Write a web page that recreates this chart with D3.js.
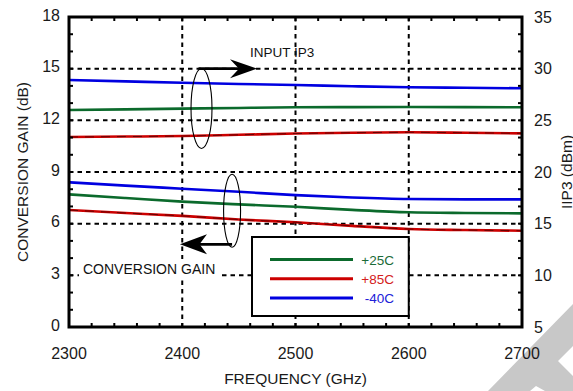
<!DOCTYPE html>
<html>
<head>
<meta charset="utf-8">
<script src="https://cdn.jsdelivr.net/npm/d3@7"></script>
<style>
  html, body { margin: 0; padding: 0; background: #fff; }
  svg { display: block; font-family: "Liberation Sans", Arial, sans-serif; }
</style>
</head>
<body>
<div id="chart"></div>
<script>
// values
const freq = [2300, 2350, 2400, 2450, 2500, 2550, 2600, 2650, 2700];

// input IP3 (dBm, right axis)
const ip3Plus25 = [26.0, 26.06, 26.13, 26.2, 26.26, 26.28, 26.29, 26.28, 26.26];
const ip3Plus85 = [23.39, 23.43, 23.48, 23.6, 23.72, 23.8, 23.84, 23.8, 23.74];
const ip3Minus40 = [28.9, 28.77, 28.64, 28.52, 28.42, 28.3, 28.2, 28.15, 28.1];

// conversion gain (dB, left axis)
const gainPlus25 = [7.7, 7.49, 7.28, 7.12, 6.98, 6.8, 6.66, 6.62, 6.6];
const gainPlus85 = [6.79, 6.62, 6.45, 6.24, 6.08, 5.87, 5.69, 5.63, 5.59];
const gainMinus40 = [8.4, 8.21, 8.03, 7.85, 7.66, 7.52, 7.43, 7.41, 7.41];

const tempLabels = ["+25C", "+85C", "-40C"];
const tempColors = ["#0b6a2c", "#cc0000", "#0000e0"];
const textColors = ["#1b6b38", "#d42020", "#2020d8"];

const xTicks = [2300, 2400, 2500, 2600, 2700];
const leftTicks = [0, 3, 6, 9, 12, 15, 18];
const rightTicks = [5, 10, 15, 20, 25, 30, 35];

const width = 573, height = 391;
const plot = { left: 69, right: 522, top: 17, bottom: 327 };

const svg = d3.select("#chart").append("svg")
  .attr("width", width)
  .attr("height", height);

svg.append("rect").attr("width", width).attr("height", height).attr("fill", "#fff");

const x = d3.scaleLinear().domain([2300, 2700]).range([plot.left, plot.right]);
const yL = d3.scaleLinear().domain([0, 18]).range([plot.bottom, plot.top]);
const yR = d3.scaleLinear().domain([5, 35]).range([plot.bottom, plot.top]);

// grey watermark corner
svg.append("path")
  .attr("fill", "#c8c8c8")
  .attr("d", `M${width - 85},${height} L${width},${height - 87} L${width},${height - 45}
    L${width - 15},${height - 30} L${width},${height - 15} L${width},${height}
    L${width - 28},${height} L${width - 37},${height - 5} L${width - 43},${height} Z`);

// dashed grid
const grid = svg.append("g")
  .attr("stroke", "#000")
  .attr("stroke-width", 2)
  .attr("stroke-dasharray", "4.5,4");

grid.selectAll("line.h")
  .data(leftTicks.slice(1, -1))
  .join("line")
  .attr("x1", plot.left).attr("x2", plot.right)
  .attr("y1", d => yL(d)).attr("y2", d => yL(d));

grid.selectAll("line.v")
  .data(xTicks.slice(1, -1))
  .join("line")
  .attr("x1", d => x(d)).attr("x2", d => x(d))
  .attr("y1", plot.top).attr("y2", plot.bottom);

// curves
const gainSeries = [gainPlus25, gainPlus85, gainMinus40];
const ip3Series = [ip3Plus25, ip3Plus85, ip3Minus40];

const lineL = d3.line().x((d, i) => x(freq[i])).y(d => yL(d)).curve(d3.curveMonotoneX);
const lineR = d3.line().x((d, i) => x(freq[i])).y(d => yR(d)).curve(d3.curveMonotoneX);

const curves = svg.append("g").attr("fill", "none");

gainSeries.forEach((s, i) => {
  curves.append("path").attr("d", lineL(s))
    .attr("stroke", tempColors[i]).attr("stroke-width", 2.6);
});
ip3Series.forEach((s, i) => {
  curves.append("path").attr("d", lineR(s))
    .attr("stroke", tempColors[i]).attr("stroke-width", 2.6);
});

// the hot curves carry a faint black dash on top in the original
curves.append("path").attr("d", lineL(gainPlus85))
  .attr("stroke", "#000").attr("stroke-width", 1).attr("stroke-opacity", 0.5)
  .attr("stroke-dasharray", "9,7");
curves.append("path").attr("d", lineR(ip3Plus85))
  .attr("stroke", "#000").attr("stroke-width", 1).attr("stroke-opacity", 0.5)
  .attr("stroke-dasharray", "9,7");

// arrowhead with a notched back
function arrowHead(tipX, tipY, dir, len, half, notch) {
  const bx = tipX - dir * len;
  const nx = tipX - dir * (len - notch);
  return `M${tipX},${tipY} L${bx},${tipY - half} L${nx},${tipY} L${bx},${tipY + half} Z`;
}

const ann = svg.append("g");

// INPUT IP3 marker
const ipCx = x(2417), ipCy = yR(26.15);
ann.append("ellipse")
  .attr("cx", ipCx).attr("cy", ipCy).attr("rx", 10.5).attr("ry", 40)
  .attr("fill", "none").attr("stroke", "#000").attr("stroke-width", 1.1);
ann.append("line")
  .attr("x1", ipCx - 3).attr("x2", x(2466) - 15)
  .attr("y1", yR(30)).attr("y2", yR(30))
  .attr("stroke", "#000").attr("stroke-width", 2.6);
ann.append("path")
  .attr("d", arrowHead(x(2466), yR(30), 1, 27, 9.5, 9))
  .attr("fill", "#000");
ann.append("text")
  .attr("x", 250).attr("y", 56.5)
  .attr("font-size", 13.5).attr("fill", "#111")
  .text("INPUT IP3");

// CONVERSION GAIN marker
const gCx = x(2444), gCy = yL(6.75);
ann.append("ellipse")
  .attr("cx", gCx).attr("cy", gCy).attr("rx", 8.5).attr("ry", 36.5)
  .attr("fill", "none").attr("stroke", "#000").attr("stroke-width", 1.1);
ann.append("line")
  .attr("x1", gCx).attr("x2", x(2398) + 15)
  .attr("y1", yL(4.8)).attr("y2", yL(4.8))
  .attr("stroke", "#000").attr("stroke-width", 2.6);
ann.append("path")
  .attr("d", arrowHead(x(2398), yL(4.8), -1, 27, 10, 7.5))
  .attr("fill", "#000");
ann.append("rect")
  .attr("x", 79).attr("y", 259).attr("width", 140).attr("height", 19)
  .attr("fill", "#fff");
ann.append("text")
  .attr("x", 83).attr("y", 273.5)
  .attr("font-size", 14).attr("fill", "#111")
  .text("CONVERSION GAIN");

// legend
const legend = svg.append("g");
legend.append("rect")
  .attr("x", 252).attr("y", 237).attr("width", x(2600) - 252).attr("height", 79)
  .attr("fill", "#fff").attr("stroke", "#000").attr("stroke-width", 2);

const rows = legend.selectAll("g.row")
  .data(tempLabels)
  .join("g")
  .attr("transform", (d, i) => `translate(0, ${259.5 + i * 19.2})`);
rows.append("line")
  .attr("x1", 270).attr("x2", 353)
  .attr("stroke", (d, i) => tempColors[i]).attr("stroke-width", 3);
rows.append("text")
  .attr("x", 394).attr("y", 5)
  .attr("text-anchor", "end")
  .attr("font-size", 13.5)
  .attr("fill", (d, i) => textColors[i])
  .text(d => d);

// frame and inward minor ticks
const frame = svg.append("g").attr("stroke", "#000");
const minorY = d3.range(1, 18);
const minorX = d3.range(2320, 2700, 20);

frame.selectAll("line.ly")
  .data(minorY)
  .join("line")
  .attr("x1", plot.left).attr("x2", plot.left + 4)
  .attr("y1", d => yL(d)).attr("y2", d => yL(d))
  .attr("stroke-width", 2);
frame.selectAll("line.ry")
  .data(minorY)
  .join("line")
  .attr("x1", plot.right - 4).attr("x2", plot.right)
  .attr("y1", d => yL(d)).attr("y2", d => yL(d))
  .attr("stroke-width", 2);
frame.selectAll("line.bx")
  .data(minorX)
  .join("line")
  .attr("x1", d => x(d)).attr("x2", d => x(d))
  .attr("y1", plot.bottom - 4).attr("y2", plot.bottom)
  .attr("stroke-width", 2);
frame.selectAll("line.tx")
  .data(minorX)
  .join("line")
  .attr("x1", d => x(d)).attr("x2", d => x(d))
  .attr("y1", plot.top).attr("y2", plot.top + 4)
  .attr("stroke-width", 2);

frame.append("rect")
  .attr("x", plot.left).attr("y", plot.top)
  .attr("width", plot.right - plot.left).attr("height", plot.bottom - plot.top)
  .attr("fill", "none").attr("stroke-width", 3);

// tick labels
const labels = svg.append("g").attr("font-size", 16).attr("fill", "#1a1a1a");

labels.selectAll("text.l")
  .data(leftTicks)
  .join("text")
  .attr("x", 60).attr("y", d => yL(d) - 2)
  .attr("dy", "0.35em")
  .attr("text-anchor", "end")
  .text(d => d);

labels.selectAll("text.r")
  .data(rightTicks)
  .join("text")
  .attr("x", 534).attr("y", d => yR(d))
  .attr("dy", "0.35em")
  .text(d => d);

labels.selectAll("text.b")
  .data(xTicks)
  .join("text")
  .attr("x", d => x(d)).attr("y", 358.5)
  .attr("text-anchor", "middle")
  .text(d => d);

// axis titles
const midY = (plot.top + plot.bottom) / 2;
svg.append("text")
  .attr("transform", `translate(27.5, ${midY}) rotate(-90)`)
  .attr("text-anchor", "middle")
  .attr("font-size", 15.5).attr("fill", "#1a1a1a")
  .text("CONVERSION GAIN (dB)");

svg.append("text")
  .attr("transform", `translate(571.5, ${midY}) rotate(-90)`)
  .attr("text-anchor", "middle")
  .attr("font-size", 15.5).attr("fill", "#1a1a1a")
  .text("IIP3 (dBm)");

svg.append("text")
  .attr("x", (plot.left + plot.right) / 2).attr("y", 383.5)
  .attr("text-anchor", "middle")
  .attr("font-size", 15.5).attr("fill", "#1a1a1a")
  .text("FREQUENCY (GHz)");
</script>
</body>
</html>
